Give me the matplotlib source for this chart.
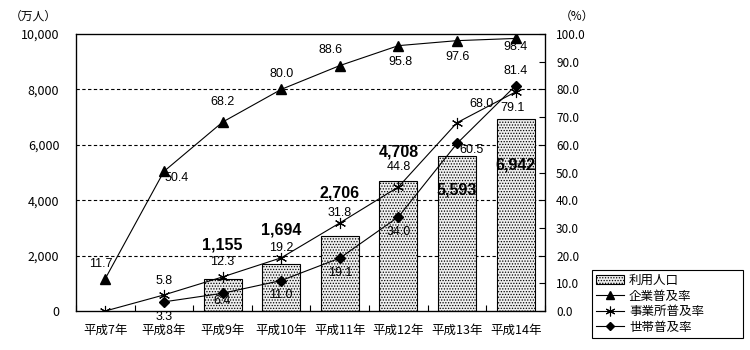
import numpy as np
import matplotlib
matplotlib.use("Agg")
import matplotlib.pyplot as plt
from matplotlib.lines import Line2D
from matplotlib.patches import Patch
from matplotlib.ticker import FuncFormatter

plt.rcParams['font.family'] = ['Noto Sans CJK JP', 'DejaVu Sans']
plt.rcParams['hatch.color'] = '#a0a0a0'
plt.rcParams['hatch.linewidth'] = 0.6

years = ['平成7年', '平成8年', '平成9年', '平成10年', '平成11年', '平成12年', '平成13年', '平成14年']
users = [np.nan, np.nan, 1155, 1694, 2706, 4708, 5593, 6942]          # 万人
corp_rate = [11.7, 50.4, 68.2, 80.0, 88.6, 95.8, 97.6, 98.4]          # %
office_rate = [0.0, 5.8, 12.3, 19.2, 31.8, 44.8, 68.0, 79.1]          # %
household_rate = [np.nan, 3.3, 6.4, 11.0, 19.1, 34.0, 60.5, 81.4]     # %

# label offsets in pixels (dx, dy) relative to each point
users_off = [None, None, (0, 34), (0, 34), (0, 43), (0, 29), (0, -34), (0, -46)]
corp_off = [(-5, 15), (13, -7), (0, 20), (0, 15), (-9, 16), (2, -16), (1, -16), (0, -9)]
office_off = [None, (0, 14), (0, 15), (0, 10), (0, 10), (0, 20), (24, 19), (-3, -16)]
house_off = [None, (0, -15), (0, -8), (0, -14), (0, -15), (0, -15), (14, -7), (0, 15)]

NUM_FONT = ['Liberation Sans', 'DejaVu Sans']

fig = plt.figure(figsize=(7.5, 3.5), dpi=100)
ax = fig.add_axes([76 / 750, 1 - 311 / 350, (545 - 76) / 750, (311 - 34) / 350])
x = np.arange(len(years))

ax.set_xlim(-0.5, len(years) - 0.5)
ax.set_ylim(0, 10000)
ax.set_yticks(np.arange(0, 10001, 2000))
ax.yaxis.set_major_formatter(FuncFormatter(lambda v, p: f"{int(v):,}"))
for gy in range(2000, 10000, 2000):
    ax.axhline(gy, color='black', lw=0.8, ls=(0, (3, 2.2)), zorder=1)

ax.bar(x, users, width=0.65, facecolor='#efefef', edgecolor='black', lw=0.8,
       hatch='......', zorder=2)
for xi, v, off in zip(x, users, users_off):
    if off is None or np.isnan(v):
        continue
    ax.annotate(f"{int(v):,}", (xi, v), xytext=off, textcoords='offset pixels',
                ha='center', va='center', fontsize=11.5, fontweight='bold',
                family=NUM_FONT, zorder=6)

ax.set_xticks(x)
ax.set_xticklabels(years, fontsize=9)
ax.set_xticks(np.arange(-0.5, len(years)), minor=True)
ax.tick_params(axis='x', which='major', length=0, pad=9)
ax.tick_params(axis='x', which='minor', direction='in', length=4, width=0.8)
ax.tick_params(axis='y', length=0, labelsize=9, pad=12)
for s in ax.spines.values():
    s.set_linewidth(0.9)

ax2 = ax.twinx()
ax2.set_ylim(0, 100)
ax2.set_yticks(np.arange(0, 101, 10))
ax2.yaxis.set_major_formatter(FuncFormatter(lambda v, p: f"{v:.1f}"))
ax2.tick_params(axis='y', direction='in', length=4, width=0.8, labelsize=8.5, pad=8)
ax2.set_xlim(-0.5, len(years) - 0.5)

ax2.plot(x, corp_rate, color='black', lw=0.8, marker='^', ms=6.5, zorder=4)
ax2.plot(x, office_rate, color='black', lw=0.8, marker=(6, 2, 0), ms=8, mew=0.8, zorder=4)
ax2.plot(x, household_rate, color='black', lw=0.8, marker='D', ms=5, zorder=4)

def label_series(vals, offs):
    for xi, v, off in zip(x, vals, offs):
        if off is None or np.isnan(v):
            continue
        ax2.annotate(f"{v:.1f}", (xi, v), xytext=off, textcoords='offset pixels',
                     ha='center', va='center', fontsize=9, family=NUM_FONT, zorder=6)

label_series(corp_rate, corp_off)
label_series(office_rate, office_off)
label_series(household_rate, house_off)

fig.text(33 / 750, 1 - 16 / 350, '（万人）', ha='center', va='center', fontsize=8.5)
fig.text(577 / 750, 1 - 16 / 350, '（%）', ha='center', va='center', fontsize=8.5)

handles = [
    Patch(facecolor='#efefef', edgecolor='black', hatch='......', lw=0.8),
    Line2D([], [], color='black', lw=0.8, marker='^', ms=6),
    Line2D([], [], color='black', lw=0.8, marker=(6, 2, 0), ms=7, mew=0.8),
    Line2D([], [], color='black', lw=0.8, marker='D', ms=4.5),
]
labels = ['利用人口', '企業普及率', '事業所普及率', '世帯普及率']
leg = fig.legend(handles, labels, loc='lower left',
                 bbox_to_anchor=(592 / 750, 1 - 338 / 350, (743 - 592) / 750, (338 - 260) / 350),
                 mode='expand', fontsize=9, frameon=True, fancybox=False,
                 edgecolor='black', framealpha=1, borderpad=0.35, labelspacing=0.2,
                 handlelength=2.2, handletextpad=0.4, borderaxespad=0)
leg.get_frame().set_linewidth(0.8)

fig.savefig('out.png', dpi=100)
